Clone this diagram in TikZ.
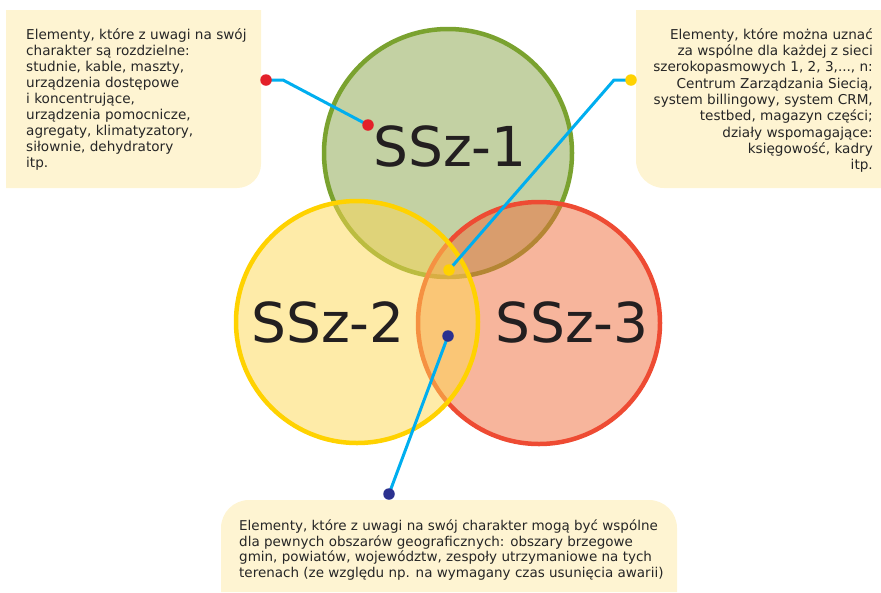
\documentclass[tikz,border=0pt]{standalone}
\usepackage{fontspec}
\setmainfont{DejaVu Sans}
\pgfdeclarelayer{back}
\pgfdeclarelayer{mid}
\pgfsetlayers{back,mid,main}
\begin{document}
\begin{tikzpicture}[x=1pt,y=-1pt,
  notefill/.style={fill=noteC},
  notetext/.style={inner sep=0pt, text=txtC, font=\fontsize{13.6}{16}\selectfont},
  setfill/.style={fill opacity=0.5},
  setline/.style={line width=4.5pt},
  label/.style={inner sep=0pt, anchor=base, text=bigC, font=\fontsize{55}{60}\selectfont},
  link/.style={draw=linkC, line width=3pt, line join=round},
  dot/.style={circle, inner sep=0pt, minimum size=11.5pt}]
\definecolor{noteC}{HTML}{FEF4D2}
\definecolor{txtC}{HTML}{262626}
\definecolor{bigC}{HTML}{231F20}
\definecolor{linkC}{HTML}{00AEEF}
\definecolor{gFill}{HTML}{87A347}
\definecolor{gLine}{HTML}{7AA22F}
\definecolor{rFill}{HTML}{EF6B39}
\definecolor{rLine}{HTML}{EE4B33}
\definecolor{yFill}{HTML}{FDD751}
\definecolor{yLine}{HTML}{FFD200}
\definecolor{redDot}{HTML}{E3202A}
\definecolor{yelDot}{HTML}{FFD200}
\definecolor{navyDot}{HTML}{2B3190}

\useasboundingbox (0,0) rectangle (881,592);

\begin{pgfonlayer}{back}
% note panels
\fill[notefill] (6,10) -- (261,10) -- (261,164) arc[start angle=0, end angle=-90, radius=24pt] -- (6,188) -- cycle;
\fill[notefill] (881,10) -- (636,10) -- (636,160) arc[start angle=180, end angle=270, radius=28pt] -- (881,188) -- cycle;
\fill[notefill] (221,592) -- (221,528) arc[start angle=180, end angle=90, radius=28pt] -- (649,500) arc[start angle=90, end angle=0, radius=28pt] -- (677,592) -- cycle;

% three overlapping sets
\fill[gFill, setfill] (448,153) circle[radius=124pt];
\draw[gLine, setline] (448,153) circle[radius=124pt];
\fill[rFill, setfill] (539,323) circle[radius=121pt];
\draw[rLine, setline] (539,323) circle[radius=121pt];
\fill[yFill, setfill] (357,322) circle[radius=121pt];
\draw[yLine, setline] (357,322) circle[radius=121pt];
\end{pgfonlayer}

\node[label] (s1) at (450,166) {SSz-1};
\node[label] (s2) at (328,342) {SSz-2};
\node[label] (s3) at (572,342) {SSz-3};

% notes (anchored at the baseline of their last line)
\node[notetext, anchor=base west, align=left] (n1) at (26,167.7)
  {Elementy, które z uwagi na swój\\charakter są rozdzielne:\\studnie, kable, maszty,\\urządzenia dostępowe\\i koncentrujące,\\urządzenia pomocnicze,\\agregaty, klimatyzatory,\\siłownie, dehydratory\\itp.};
\node[notetext, anchor=base east, align=right, font=\fontsize{13.6}{16.3}\selectfont] (n2) at (873,169.7)
  {Elementy, które można uznać\\za wspólne dla każdej z sieci\\szerokopasmowych 1, 2, 3,..., n:\\Centrum Zarządzania Siecią,\\system billingowy, system CRM,\\testbed, magazyn części;\\działy wspomagające:\\księgowość, kadry\\itp.};
\node[notetext, anchor=base west, align=left, font=\fontsize{13.5}{15.6}\selectfont] (n3) at (239,577.5)
  {Elementy, które z uwagi na swój charakter mogą być wspólne\\dla pewnych obszarów geograficznych: obszary brzegowe\\gmin, powiatów, województw, zespoły utrzymaniowe na tych\\terenach (ze względu np. na wymagany czas usunięcia awarii)};

% leader lines with end dots
\node[dot, fill=redDot] (r0) at (266,80) {};
\node[dot, fill=redDot] (r1) at (368,125) {};
\coordinate (rb) at (283,80);
\node[dot, fill=yelDot] (y0) at (631,80) {};
\node[dot, fill=yelDot] (y1) at (449,270) {};
\coordinate (yb) at (614,80);
\node[dot, fill=navyDot] (b0) at (389,494) {};
\node[dot, fill=navyDot] (b1) at (448,336) {};

\begin{pgfonlayer}{mid}
\draw[link] (r0.center) -- (rb) -- (r1.center);
\draw[link] (y0.center) -- (yb) -- (y1.center);
\draw[link] (b0.center) -- (b1.center);
\end{pgfonlayer}
\end{tikzpicture}
\end{document}
